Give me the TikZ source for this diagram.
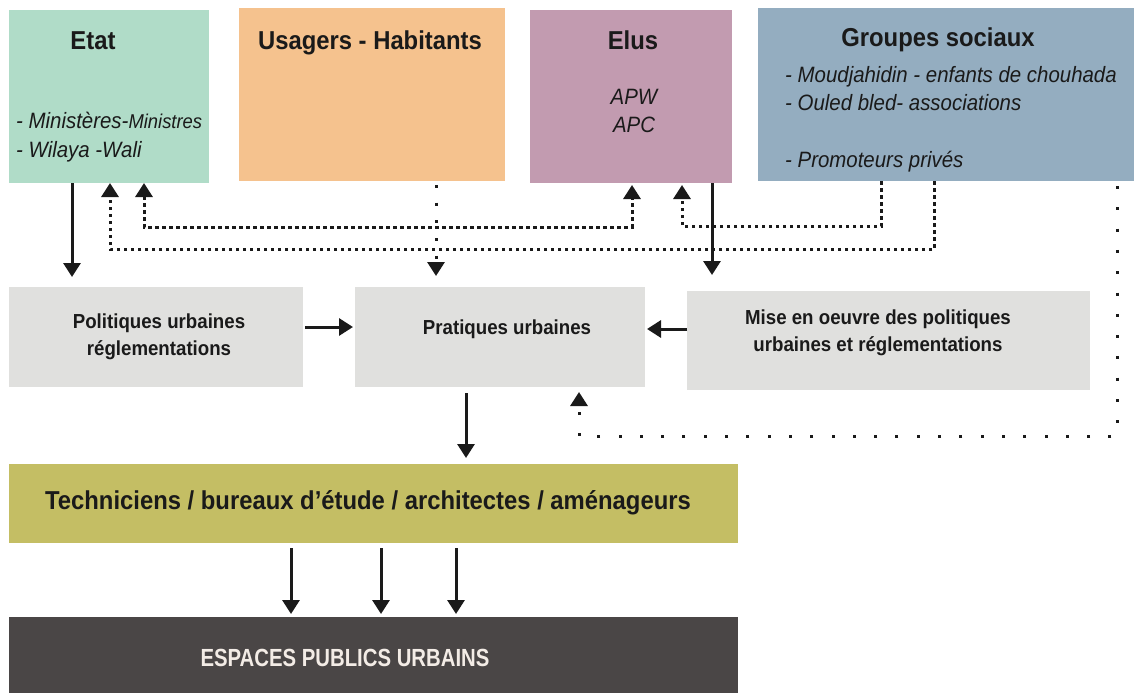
\documentclass[tikz,border=0pt]{standalone}
\usepackage{fontspec}
\setmainfont{Liberation Sans}[FakeStretch=0.92]
\newfontfamily\narrowfont{Liberation Sans}[FakeStretch=0.82]
\usetikzlibrary{arrows.meta}
\definecolor{cEtat}{HTML}{B0DCC8}
\definecolor{cUsa}{HTML}{F5C28E}
\definecolor{cElus}{HTML}{C29BB0}
\definecolor{cGrp}{HTML}{94ADC0}
\definecolor{cGray}{HTML}{E0E0DE}
\definecolor{cTech}{HTML}{C4BE64}
\definecolor{cEsp}{HTML}{4A4646}
\definecolor{txt}{HTML}{1A1A1A}
\definecolor{txtlight}{HTML}{F3ECE6}
\tikzset{
  box/.style={inner sep=0pt, outer sep=0pt, anchor=north west, draw=none},
  title/.style={font=\fontsize{25.9}{30}\selectfont\bfseries, text=txt, inner sep=0pt},
  item/.style={font=\fontsize{22.2}{28}\selectfont\itshape, text=txt, inner sep=0pt},
  graytext/.style={font=\fontsize{20.3}{27}\selectfont\bfseries, text=txt, align=center, inner sep=0pt},
  tip/.style={-{Triangle[width=17pt,length=14pt]}},
  bitip/.style={{Triangle[width=17pt,length=14pt]}-{Triangle[width=17pt,length=14pt]}},
  solidline/.style={line width=3pt, draw=txt},
  densedot/.style={line width=3pt, draw=txt, dash pattern=on 3.5pt off 3.5pt},
  sparsedot/.style={line width=3pt, draw=txt, dash pattern=on 3pt off 14.7pt},
  widedot/.style={line width=3pt, draw=txt, dash pattern=on 3pt off 18.3pt},
}
\begin{document}
\begin{tikzpicture}[x=1pt,y=-1pt]
\useasboundingbox (0,0) rectangle (1134,693);
% boxes
\node[box, fill=cEtat, minimum width=200pt, minimum height=173pt] (etat) at (9,10) {};
\node[box, fill=cUsa, minimum width=266pt, minimum height=173pt] (usagers) at (239,8) {};
\node[box, fill=cElus, minimum width=202pt, minimum height=173pt] (elus) at (530,10) {};
\node[box, fill=cGrp, minimum width=376pt, minimum height=173pt] (groupes) at (758,8) {};
\node[box, fill=cGray, minimum width=294pt, minimum height=100pt] (politiques) at (9,287) {};
\node[box, fill=cGray, minimum width=290pt, minimum height=100pt] (pratiques) at (355,287) {};
\node[box, fill=cGray, minimum width=403pt, minimum height=99pt] (mise) at (687,291) {};
\node[box, fill=cTech, minimum width=729pt, minimum height=79pt] (tech) at (9,464) {};
\node[box, fill=cEsp, minimum width=729pt, minimum height=76pt] (espaces) at (9,617) {};
% texts
\node[title, anchor=base] (etatT) at (93,49) {Etat};
\node[item, anchor=base west] (etatI1) at (16,128) {- Ministères-{\fontsize{20}{24}\selectfont Ministres}};
\node[item, anchor=base west] (etatI2) at (16,157) {- Wilaya -Wali};
\node[title, anchor=base] (usaT) at (370,50) {Usagers - Habitants};
\node[title, anchor=base] (elusT) at (633,50) {Elus};
\node[item, anchor=base] (elusI1) at (634,104) {APW};
\node[item, anchor=base] (elusI2) at (634,132) {APC};
\node[title, anchor=base] (grpT) at (938,47) {Groupes sociaux};
\node[item, anchor=base west] (grpI1) at (785,82) {- Moudjahidin - enfants de chouhada};
\node[item, anchor=base west] (grpI2) at (785,110) {- Ouled bled- associations};
\node[item, anchor=base west] (grpI3) at (785,167) {- Promoteurs privés};
\node[graytext] (polT) at (159,337) {Politiques urbaines\\réglementations};
\node[graytext] (praT) at (507,329) {Pratiques urbaines};
\node[graytext] (miseT) at (878,333) {Mise en oeuvre des politiques\\urbaines et réglementations};
\node[title] (techT) at (368,503) {Techniciens / bureaux d’étude / architectes / aménageurs};
\node[font=\narrowfont\fontsize{24.8}{30}\selectfont\bfseries, text=txtlight, inner sep=0pt] (espT) at (345,658) {ESPACES PUBLICS URBAINS};
% helper coordinates
\coordinate (ya) at (0,227);
\coordinate (yb) at (0,249);
\coordinate (yc) at (0,226);
\coordinate (yd) at (0,436);
\coordinate (etatA) at ([xshift=101pt]etat.south west);
\coordinate (etatB) at ([xshift=135pt]etat.south west);
\coordinate (etatC) at ([xshift=63pt]etat.south west);
\coordinate (elusA) at ([xshift=102pt,yshift=-2pt]elus.south west);
\coordinate (elusB) at ([xshift=152pt,yshift=-2pt]elus.south west);
\coordinate (elusC) at ([xshift=182pt]elus.south west);
\coordinate (grpA) at ([xshift=123pt]groupes.south west);
\coordinate (grpB) at ([xshift=176pt]groupes.south west);
\coordinate (grpC) at ([xshift=359pt,yshift=-5pt]groupes.south west);
\coordinate (usaA) at ([xshift=197pt,yshift=-4pt]usagers.south west);
\coordinate (praA) at ([xshift=224pt,yshift=-5pt]pratiques.south west);
\coordinate (praB) at ([xshift=111pt]pratiques.south west);
% solid arrows
\draw[solidline, tip, shorten >=10pt] (etatC) -- (etatC |- politiques.north);
\draw[solidline, tip, shorten >=16pt] (elusC) -- (elusC |- mise.north);
\draw[solidline, tip, shorten <=2pt, shorten >=2pt] (politiques.east |- 0,327) -- (pratiques.west |- 0,327);
\draw[solidline, tip, shorten >=2pt] (mise.west |- 0,329) -- (pratiques.east |- 0,329);
\draw[solidline, tip, shorten <=6pt, shorten >=6pt] (praB) -- (praB |- tech.north);
\foreach \dx [count=\i] in {282,372,447}{
  \coordinate (techS\i) at ([xshift=\dx pt]tech.south west);
  \draw[solidline, tip, shorten <=5pt, shorten >=3pt] (techS\i) -- (techS\i |- espaces.north);
}
% dotted connectors
\draw[densedot, bitip] (etatB) -- (etatB |- ya) -- (elusA |- ya) -- (elusA);
\draw[densedot, tip] (grpB) -- (grpB |- yb) -- (etatA |- yb) -- (etatA);
\draw[densedot, tip] (grpA) -- (grpA |- yc) -- (elusB |- yc) -- (elusB);
\draw[sparsedot, tip, shorten >=11pt] (usaA) -- (usaA |- pratiques.north);
\draw[widedot, tip] (grpC) -- (grpC |- yd) -- (praA |- yd) -- (praA);
\end{tikzpicture}
\end{document}
